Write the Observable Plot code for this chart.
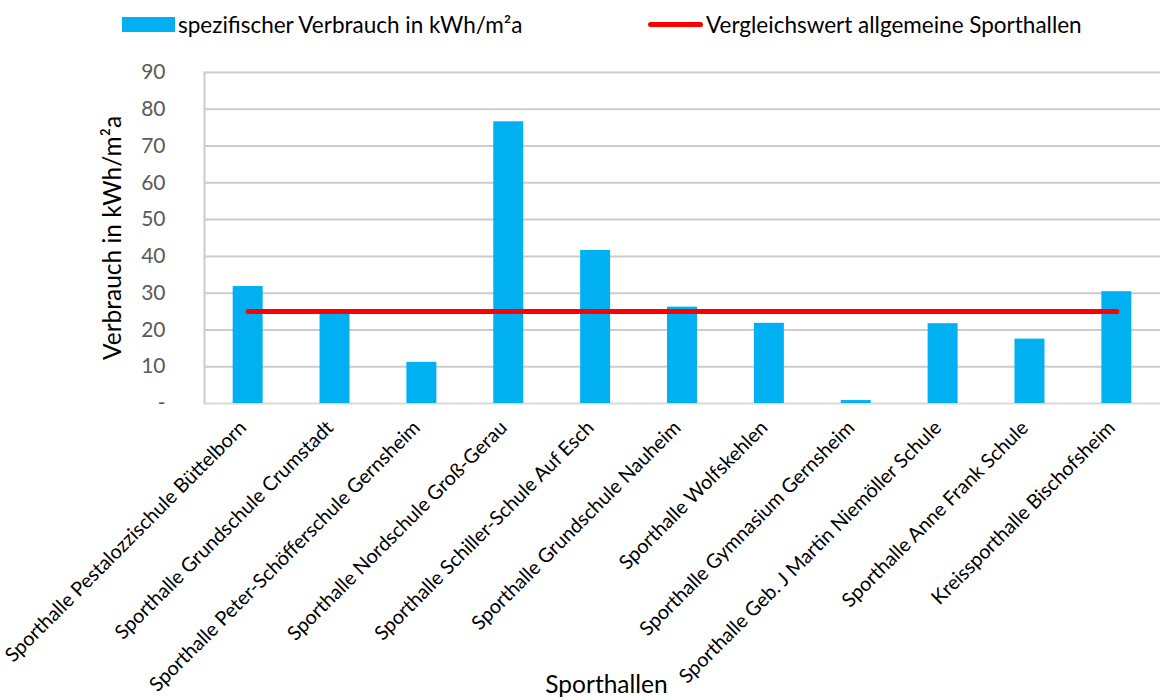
<!DOCTYPE html>
<html><head><meta charset="utf-8">
<script src="https://cdn.jsdelivr.net/npm/d3@7"></script>
<script src="https://cdn.jsdelivr.net/npm/@observablehq/plot@0.6"></script>
<style>
body{margin:0;background:#fff;font-family:Lato,"Open Sans",sans-serif;}
#wrap{position:relative;width:1167px;height:700px;}
#legend{position:absolute;left:0;top:0;width:1167px;height:48px;font-size:22.5px;color:#000;z-index:2;}
.item{position:absolute;top:11px;height:26px;display:flex;align-items:center;white-space:nowrap;}
.sw-bar{width:53px;height:15px;background:#00b0f0;margin-right:3px;}
.sw-line{width:55px;height:5px;border-radius:3px;background:#ff0000;margin-right:3px;}
#chart{position:absolute;left:0;top:0;}
</style></head><body>
<div id="wrap"><div id="legend"></div><div id="chart"></div></div>
<script>
const categories = [
  "Sporthalle Pestalozzischule Büttelborn",
  "Sporthalle Grundschule Crumstadt",
  "Sporthalle Peter-Schöfferschule Gernsheim",
  "Sporthalle Nordschule Groß-Gerau",
  "Sporthalle Schiller-Schule Auf Esch",
  "Sporthalle Grundschule Nauheim",
  "Sporthalle Wolfskehlen",
  "Sporthalle Gymnasium Gernsheim",
  "Sporthalle Geb. J Martin Niemöller Schule",
  "Sporthalle Anne Frank Schule",
  "Kreissporthalle Bischofsheim"
];
const values = [31.8, 25.5, 11.2, 76.6, 41.6, 26.2, 21.8, 0.8, 21.7, 17.5, 30.4];
const referenceValue = 25;
const yTicks = [0, 10, 20, 30, 40, 50, 60, 70, 80, 90];
const seriesNames = ["spezifischer Verbrauch in kWh/m²a", "Vergleichswert allgemeine Sporthallen"];
const xTitle = "Sporthallen";
const yTitle = "Verbrauch in kWh/m²a";

const barColor = "#00b0f0";
const lineColor = "#ff0000";

// legend
const legend = document.getElementById("legend");
legend.innerHTML =
  `<div class="item" style="left:122px"><div class="sw-bar"></div><span>${seriesNames[0]}</span></div>` +
  `<div class="item" style="left:648px"><div class="sw-line"></div><span>${seriesNames[1]}</span></div>`;

const data = categories.map((c, i) => ({name: c, value: values[i]}));
const refData = [
  {name: categories[0], v: referenceValue},
  {name: categories[categories.length - 1], v: referenceValue}
];

const chart = Plot.plot({
  width: 1167,
  height: 700,
  marginTop: 72,
  marginBottom: 297,
  marginLeft: 204,
  marginRight: 7,
  style: {fontFamily: "Lato, 'Open Sans', sans-serif", background: "white", color: "#000"},
  x: {domain: categories, paddingInner: 0.655, paddingOuter: 0.33, round: false, label: null},
  y: {domain: [0, 90], label: null},
  marks: [
    Plot.gridY(yTicks.slice(1), {stroke: "#cccccc", strokeOpacity: 1, strokeWidth: 2}),
    Plot.frame({anchor: "left", stroke: "#cccccc", strokeWidth: 2}),
    Plot.ruleY([0], {stroke: "#d9d9d9", strokeWidth: 2}),
    Plot.barY(data, {x: "name", y: "value", fill: barColor}),
    Plot.lineY(refData, {x: "name", y: "v", stroke: lineColor, strokeWidth: 5, strokeLinecap: "round"}),
    Plot.axisY(yTicks, {tickSize: 0, tickPadding: 39, fontSize: 21, color: "#595959",
      tickFormat: d => d === 0 ? "-" : String(d), label: null}),
    Plot.axisX({tickRotate: -45, tickSize: 0, tickPadding: 21, dx: -5, fontSize: 19.8, label: null}),
    Plot.text([yTitle], {frameAnchor: "left", textAnchor: "middle", rotate: -90, dx: -91, fontSize: 24.5, fill: "#000"}),
    Plot.text([xTitle], {frameAnchor: "bottom", textAnchor: "middle", dx: -76, dy: 289, fontSize: 24.5, fill: "#000"})
  ]
});
document.getElementById("chart").appendChild(chart);
</script>
</body></html>
